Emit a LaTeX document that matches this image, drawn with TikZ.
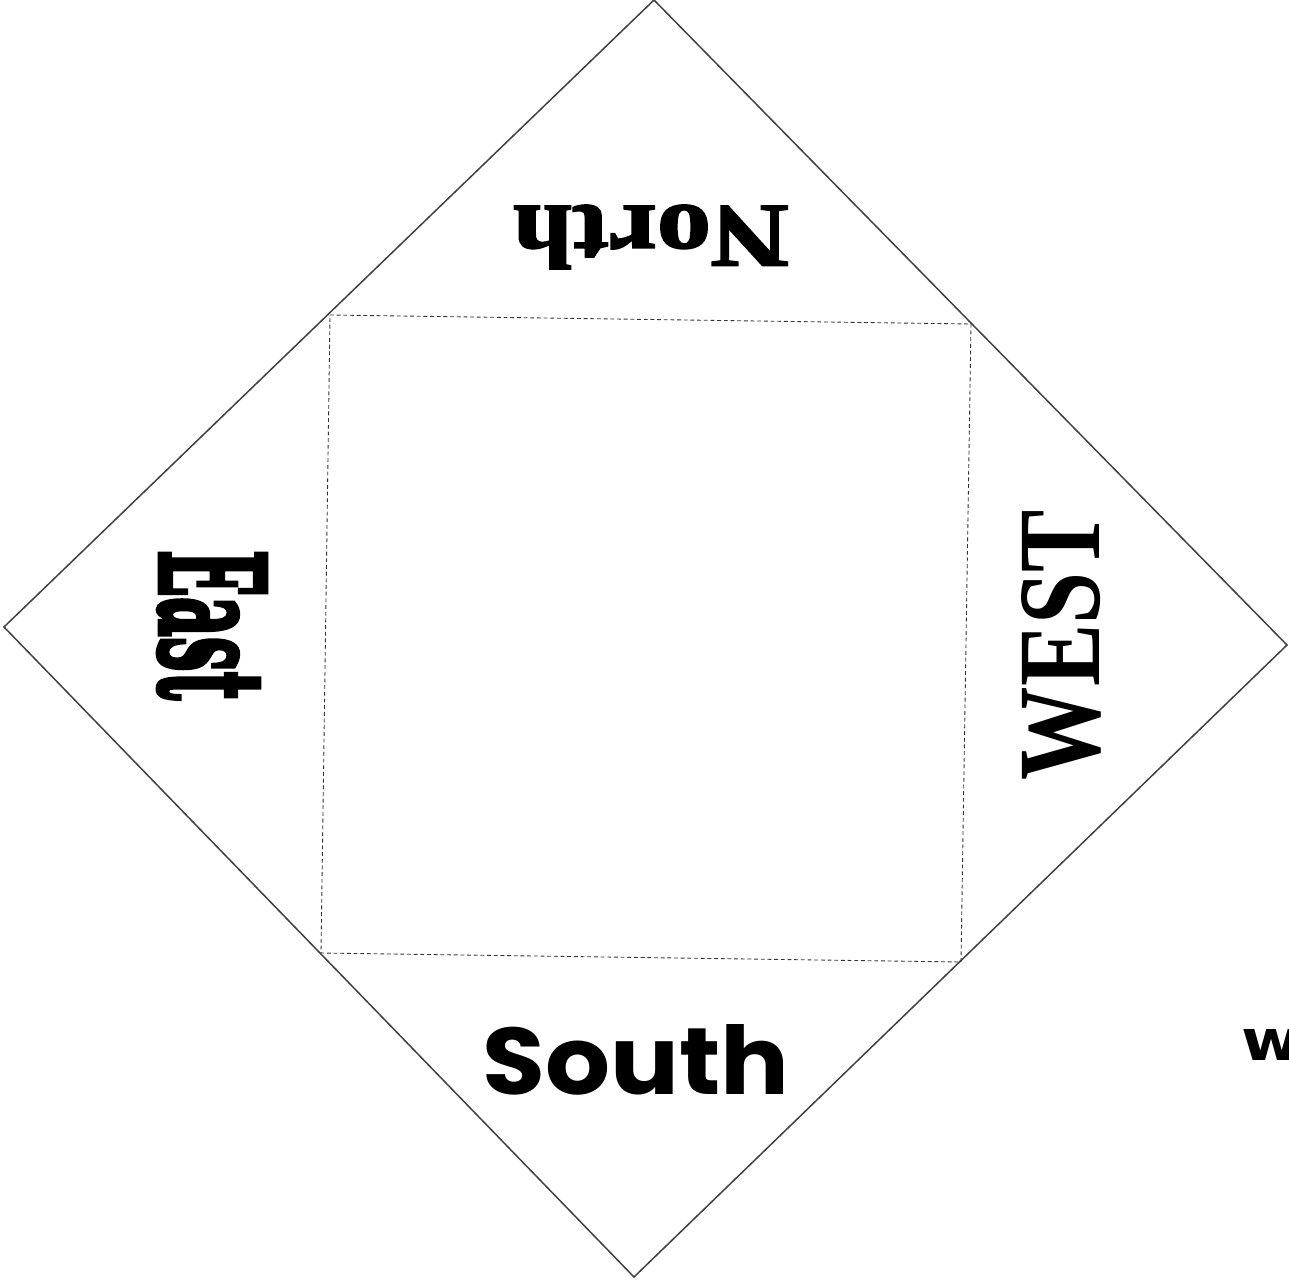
\documentclass[tikz,border=0pt]{standalone}
\usepackage{fontspec}
\usepackage{graphicx}
\setmainfont{Liberation Serif}
\newfontfamily\southfont{Poppins}
\newfontfamily\wfont{DejaVu Sans}
\newfontfamily\heavyfont[FakeBold=4]{DejaVu Serif}
\newfontfamily\northfont[FakeBold=2]{Liberation Serif}
\begin{document}
\begin{tikzpicture}[x=0.02cm,y=-0.02cm,
  outline/.style={draw=black!75,line width=0.85pt},
  foldline/.style={draw=black!80,line width=0.5pt,dash pattern=on 2.2pt off 1.6pt},
  label/.style={inner sep=0pt,outer sep=0pt}]
\useasboundingbox (0,0) rectangle (1289,1281);
% outer diamond
\coordinate (T) at (654,0);
\coordinate (R) at (1287,645);
\coordinate (B) at (634,1277);
\coordinate (L) at (4,627);
\draw[outline] (T) -- (R) -- (B) -- (L) -- cycle;
% inner dashed square
\coordinate (a) at (330,315);
\coordinate (b) at (971,324);
\coordinate (c) at (961,962);
\coordinate (d) at (321,953);
\draw[foldline] (a) -- (b) -- (c) -- (d) -- cycle;
% labels
\node[label,rotate=180] (north) at (651,237) {\resizebox{5.52cm}{1.26cm}{\northfont\bfseries North}};
\node[label,rotate=-90] (east) at (212,625) {\resizebox{3.0cm}{2.1cm}{\heavyfont\bfseries East}};
\node[label,rotate=90] (west) at (1061,645) {\resizebox{5.4cm}{1.56cm}{\bfseries WEST}};
\node[label] (south) at (636,1060) {\resizebox{6.14cm}{1.4cm}{\southfont\bfseries South}};
\begin{scope}
\clip (0,0) rectangle (1289,1281);
\node[label,anchor=west] (wfrag) at (1241,1045) {\resizebox{1.2cm}{0.62cm}{\wfont\bfseries w}};
\end{scope}
\end{tikzpicture}
\end{document}
